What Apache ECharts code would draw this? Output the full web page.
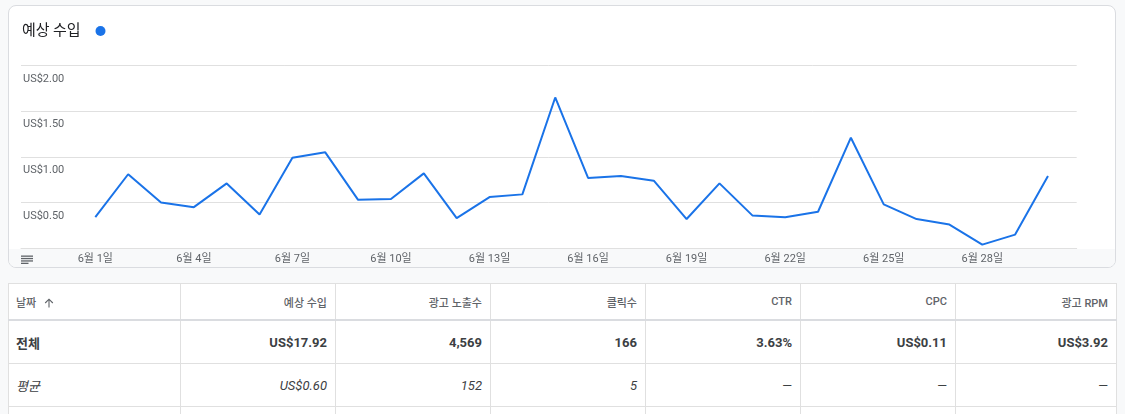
<!DOCTYPE html>
<html>
<head>
<meta charset="utf-8">
<script src="https://cdn.jsdelivr.net/npm/echarts@6/dist/echarts.min.js"></script>
<style>
  html, body { margin:0; padding:0; width:1125px; height:414px; overflow:hidden; background:#f8f9fa;
    font-family: Roboto, "Noto Sans CJK KR", "Noto Sans", sans-serif; }
  #card { position:absolute; left:8px; top:5px; width:1106px; height:261px; background:#fff;
    border:1px solid #dadce0; border-radius:8px; overflow:hidden; }
  #foot { position:absolute; left:0; right:0; top:243px; bottom:0; background:#f8f9fa; }
  #chart { position:absolute; left:0; top:0; width:1125px; height:270px; }
  table { position:absolute; left:8px; top:283px; width:1108px; border-collapse:collapse; background:#fff;
    table-layout:fixed; }
  td, th { border:1px solid #e0e0e0; padding:0 8px; text-align:right; white-space:nowrap; }
  th { height:35px; font-size:11px; font-weight:500; color:#5f6368; border-bottom:2px solid #dadce0; }
  td { height:42px; font-size:13px; }
  th.l, td.l { text-align:left; padding-left:7px; }
  tr.tot td { font-weight:700; color:#3c4043; }
  tr.avg td { font-style:italic; color:#3c4043; }
  .arrow { display:inline-block; margin-left:8px; vertical-align:-1px; }
</style>
</head>
<body>
<div id="card"><div id="foot"></div></div>
<div id="chart"></div>
<table id="tbl"></table>
<script>
// ---- data ----
const days = [1,2,3,4,5,6,7,8,9,10,11,12,13,14,15,16,17,18,19,20,21,22,23,24,25,26,27,28,29,30];
const revenue = [0.34,0.81,0.50,0.45,0.71,0.37,0.99,1.05,0.53,0.54,0.82,0.33,0.56,0.59,1.65,0.77,0.79,0.74,0.32,0.71,0.36,0.34,0.40,1.21,0.48,0.32,0.26,0.04,0.15,0.79];
const xTickDays = [1,4,7,10,13,16,19,22,25,28];
const seriesName = '예상 수입';
const tableHeaders = ['날짜','예상 수입','광고 노출수','클릭수','CTR','CPC','광고 RPM'];
const totalRow = ['전체','US$17.92','4,569','166','3.63%','US$0.11','US$3.92'];
const avgRow = ['평균','US$0.60','152','5','—','—','—'];
const colWidths = [172,155,155,155,155,155,161];

// ---- table ----
const arrowSvg = '<svg class="arrow" width="10" height="10" viewBox="0 0 10 10"><path d="M5 9.5V1.2M1.2 5L5 1.2L8.8 5" fill="none" stroke="#5f6368" stroke-width="1.1"/></svg>';
const tbl = document.getElementById('tbl');
let html = '<colgroup>' + colWidths.map(w => '<col style="width:' + w + 'px">').join('') + '</colgroup>';
html += '<tr>' + tableHeaders.map((h,i) => i === 0
  ? '<th class="l">' + h + arrowSvg + '</th>'
  : '<th>' + h + '</th>').join('') + '</tr>';
html += '<tr class="tot">' + totalRow.map((v,i) => '<td' + (i===0?' class="l"':'') + '>' + v + '</td>').join('') + '</tr>';
html += '<tr class="avg">' + avgRow.map((v,i) => '<td' + (i===0?' class="l"':'') + '>' + v + '</td>').join('') + '</tr>';
html += '<tr>' + tableHeaders.map((v,i) => '<td' + (i===0?' class="l"':'') + '></td>').join('') + '</tr>';
tbl.innerHTML = html;

// ---- chart ----
const FONT = 'Roboto, "Noto Sans CJK KR", sans-serif';
const chart = echarts.init(document.getElementById('chart'), null, { renderer: 'canvas' });
chart.setOption({
  animation: false,
  backgroundColor: 'transparent',
  title: {
    text: seriesName, left: 22, top: 22, padding: 0,
    textStyle: { fontSize: 15, fontWeight: 400, color: '#202124', fontFamily: '"Noto Sans CJK KR", Roboto, sans-serif' }
  },
  legend: {
    data: [seriesName], left: 95.5, top: 26, padding: 0, icon: 'circle',
    itemWidth: 10, itemHeight: 10, formatter: () => '', selectedMode: false,
    itemStyle: { color: '#1a73e8' }
  },
  grid: { left: 21, right: 48.3, top: 65.5, bottom: 21.7, containLabel: false },
  xAxis: {
    type: 'value', min: -1.262, max: 30.874,
    axisLine: { show: true, lineStyle: { color: '#e0e0e0', width: 1 } },
    axisTick: { show: false },
    splitLine: { show: false },
    axisLabel: {
      customValues: xTickDays, margin: 5, color: '#5f6368', fontSize: 11, fontFamily: FONT,
      formatter: v => '6월 ' + v + '일'
    }
  },
  yAxis: {
    type: 'value', min: 0, max: 2, interval: 0.5,
    axisLine: { show: false }, axisTick: { show: false },
    splitLine: { lineStyle: { color: '#e0e0e0', width: 1 } },
    axisLabel: {
      inside: true, margin: 2, showMinLabel: false, verticalAlign: 'top', padding: [8,0,0,0],
      color: '#5f6368', fontSize: 11, fontFamily: FONT,
      formatter: v => 'US$' + v.toFixed(2)
    }
  },
  series: [{
    name: seriesName, type: 'line', showSymbol: false, symbol: 'none',
    lineStyle: { color: '#1a73e8', width: 2 }, itemStyle: { color: '#1a73e8' },
    data: days.map((d, i) => [d, revenue[i]])
  }],
  graphic: [{
    type: 'group', left: 21, top: 255.5,
    children: [0,1,2,3].map(k => ({
      type: 'rect', shape: { x: 0, y: k * 2.4, width: k === 3 ? 7.5 : 12, height: 1.3 },
      style: { fill: '#5f6368' }
    }))
  }]
});
</script>
</body>
</html>
